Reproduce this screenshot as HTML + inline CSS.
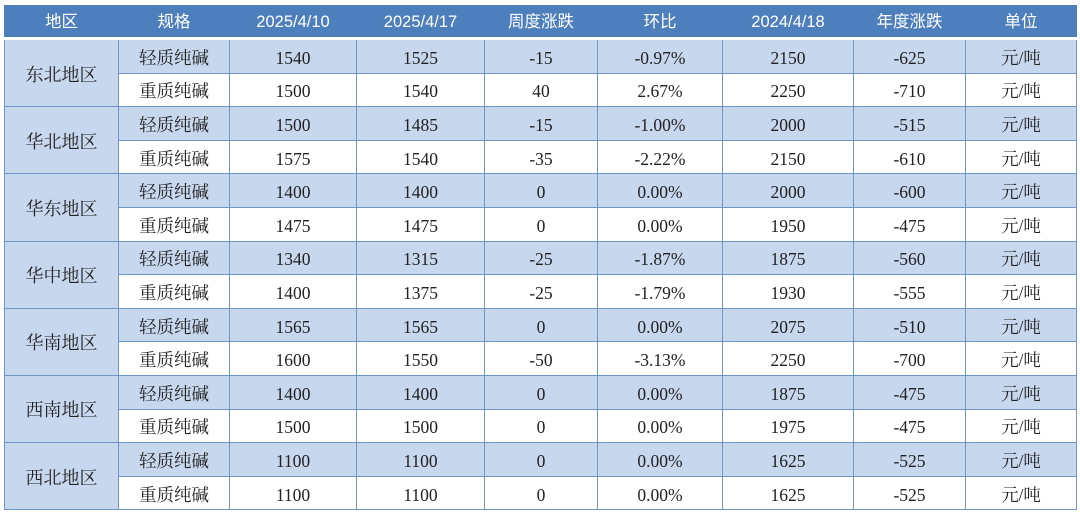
<!DOCTYPE html>
<html><head><meta charset="utf-8"><style>
body{margin:0;background:#fff;width:1080px;height:517px;overflow:hidden}
.w{position:absolute;left:4px;top:5px}
table{border-collapse:collapse;table-layout:fixed;font-family:"Liberation Serif","Noto Serif CJK SC",serif;font-size:17.5px;color:#222}
td,th{border:1px solid #7096c8;text-align:center;padding:0;height:32.6px;white-space:nowrap;vertical-align:middle;line-height:20px}
td span{display:inline-block;vertical-align:middle;line-height:20px;padding-top:2px}
td b{font-weight:normal;display:inline-block;vertical-align:middle;line-height:20px;padding-top:2px}
th{background:#4e7fbd;color:#fff;font-family:"Liberation Sans","Noto Sans CJK SC",sans-serif;font-weight:normal;font-size:16.5px;height:31px;border-color:#4e7fbd;border-bottom:3px solid #fff}
tr.l td{background:#c7d7ed}
td.r{background:#c7d7ed;font-size:18px}
</style></head><body><div class="w"><table>
<colgroup><col style="width:114px"><col style="width:111px"><col style="width:127px"><col style="width:128px"><col style="width:113px"><col style="width:125px"><col style="width:131px"><col style="width:112px"><col style="width:111px"></colgroup>
<tr><th>地区</th><th>规格</th><th>2025/4/10</th><th>2025/4/17</th><th>周度涨跌</th><th>环比</th><th>2024/4/18</th><th>年度涨跌</th><th>单位</th></tr>
<tr class="l"><td class="r" rowspan="2"><b>东北地区</b></td><td><b>轻质纯碱</b></td><td><span>1540</span></td><td><span>1525</span></td><td><span>-15</span></td><td><span>-0.97%</span></td><td><span>2150</span></td><td><span>-625</span></td><td><b>元/吨</b></td></tr>
<tr><td><b>重质纯碱</b></td><td><span>1500</span></td><td><span>1540</span></td><td><span>40</span></td><td><span>2.67%</span></td><td><span>2250</span></td><td><span>-710</span></td><td><b>元/吨</b></td></tr>
<tr class="l"><td class="r" rowspan="2"><b>华北地区</b></td><td><b>轻质纯碱</b></td><td><span>1500</span></td><td><span>1485</span></td><td><span>-15</span></td><td><span>-1.00%</span></td><td><span>2000</span></td><td><span>-515</span></td><td><b>元/吨</b></td></tr>
<tr><td><b>重质纯碱</b></td><td><span>1575</span></td><td><span>1540</span></td><td><span>-35</span></td><td><span>-2.22%</span></td><td><span>2150</span></td><td><span>-610</span></td><td><b>元/吨</b></td></tr>
<tr class="l"><td class="r" rowspan="2"><b>华东地区</b></td><td><b>轻质纯碱</b></td><td><span>1400</span></td><td><span>1400</span></td><td><span>0</span></td><td><span>0.00%</span></td><td><span>2000</span></td><td><span>-600</span></td><td><b>元/吨</b></td></tr>
<tr><td><b>重质纯碱</b></td><td><span>1475</span></td><td><span>1475</span></td><td><span>0</span></td><td><span>0.00%</span></td><td><span>1950</span></td><td><span>-475</span></td><td><b>元/吨</b></td></tr>
<tr class="l"><td class="r" rowspan="2"><b>华中地区</b></td><td><b>轻质纯碱</b></td><td><span>1340</span></td><td><span>1315</span></td><td><span>-25</span></td><td><span>-1.87%</span></td><td><span>1875</span></td><td><span>-560</span></td><td><b>元/吨</b></td></tr>
<tr><td><b>重质纯碱</b></td><td><span>1400</span></td><td><span>1375</span></td><td><span>-25</span></td><td><span>-1.79%</span></td><td><span>1930</span></td><td><span>-555</span></td><td><b>元/吨</b></td></tr>
<tr class="l"><td class="r" rowspan="2"><b>华南地区</b></td><td><b>轻质纯碱</b></td><td><span>1565</span></td><td><span>1565</span></td><td><span>0</span></td><td><span>0.00%</span></td><td><span>2075</span></td><td><span>-510</span></td><td><b>元/吨</b></td></tr>
<tr><td><b>重质纯碱</b></td><td><span>1600</span></td><td><span>1550</span></td><td><span>-50</span></td><td><span>-3.13%</span></td><td><span>2250</span></td><td><span>-700</span></td><td><b>元/吨</b></td></tr>
<tr class="l"><td class="r" rowspan="2"><b>西南地区</b></td><td><b>轻质纯碱</b></td><td><span>1400</span></td><td><span>1400</span></td><td><span>0</span></td><td><span>0.00%</span></td><td><span>1875</span></td><td><span>-475</span></td><td><b>元/吨</b></td></tr>
<tr><td><b>重质纯碱</b></td><td><span>1500</span></td><td><span>1500</span></td><td><span>0</span></td><td><span>0.00%</span></td><td><span>1975</span></td><td><span>-475</span></td><td><b>元/吨</b></td></tr>
<tr class="l"><td class="r" rowspan="2"><b>西北地区</b></td><td><b>轻质纯碱</b></td><td><span>1100</span></td><td><span>1100</span></td><td><span>0</span></td><td><span>0.00%</span></td><td><span>1625</span></td><td><span>-525</span></td><td><b>元/吨</b></td></tr>
<tr><td><b>重质纯碱</b></td><td><span>1100</span></td><td><span>1100</span></td><td><span>0</span></td><td><span>0.00%</span></td><td><span>1625</span></td><td><span>-525</span></td><td><b>元/吨</b></td></tr>
</table></div></body></html>
